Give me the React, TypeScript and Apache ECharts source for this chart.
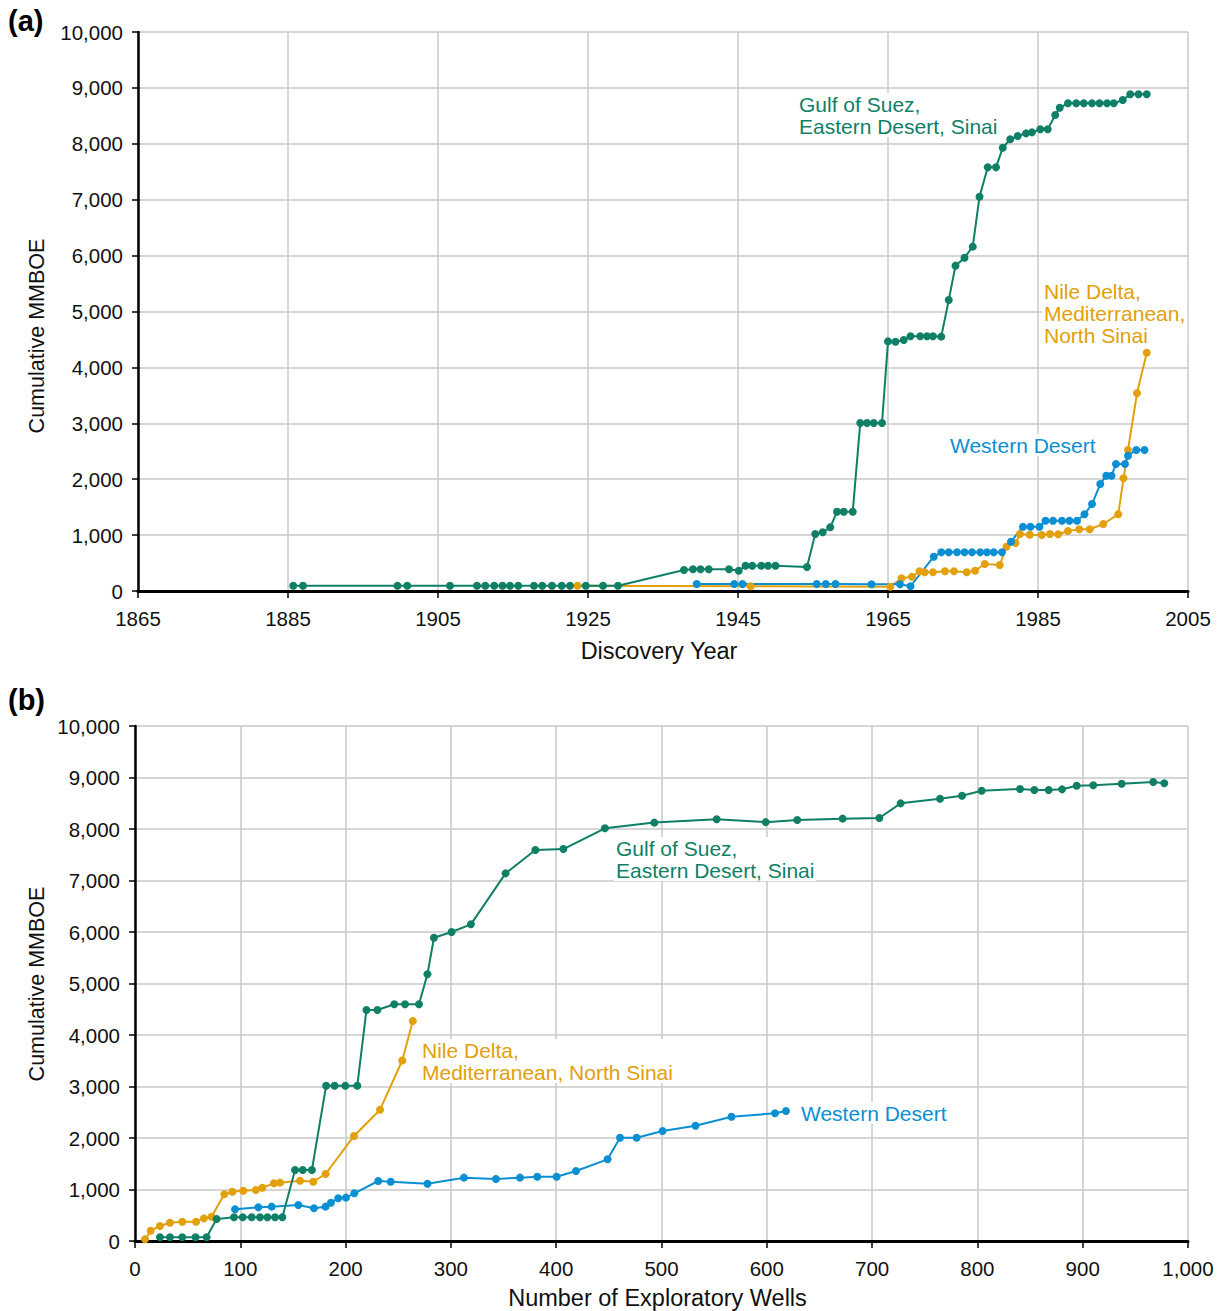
import React, { useEffect, useRef } from "react";
import * as echarts from "echarts";

// ---------- Panel (a): cumulative MMBOE vs discovery year ----------
const suezYearsA = [
  1885.7, 1887.0, 1899.6, 1900.9, 1906.6, 1910.2, 1911.3, 1912.5, 1913.6, 1914.6, 1915.7, 1917.8, 1918.9, 1920.2, 1921.5, 1922.6, 1924.7, 1927.0, 1929.0,
  1937.8, 1939.0, 1940.0, 1941.1, 1943.8, 1945.1, 1946.0, 1946.9, 1948.1, 1949.0, 1950.0,
  1954.2, 1955.3, 1956.3, 1957.3, 1958.2, 1959.1, 1960.3,
  1961.3, 1962.2, 1963.1, 1964.2,
  1965.0, 1966.0, 1967.1, 1968.0, 1969.3, 1970.2, 1971.0, 1972.1,
  1973.1, 1974.0, 1975.2, 1976.3, 1977.2, 1978.3, 1979.4, 1980.3, 1981.3, 1982.3, 1983.4, 1984.2, 1985.3, 1986.3, 1987.3, 1987.9,
  1989.0, 1990.1, 1991.1, 1992.2, 1993.2, 1994.2, 1995.1, 1996.3, 1997.3, 1998.4, 1999.5,
];
const suezCumA = [
  95, 95, 95, 95, 95, 95, 95, 95, 95, 95, 95, 95, 95, 95, 95, 95, 95, 95, 95,
  376, 388, 388, 388, 388, 363, 453, 453, 453, 453, 453,
  430, 1020, 1050, 1140, 1419, 1419, 1419,
  3005, 3005, 3005, 3005,
  4465, 4460, 4490, 4556, 4556, 4556, 4556, 4550,
  5206, 5820, 5963, 6160, 7054, 7579, 7579, 7930, 8080, 8140, 8187, 8205, 8259, 8259, 8515, 8646,
  8724, 8724, 8724, 8724, 8724, 8724, 8724, 8784, 8885, 8885, 8885,
];

const westYearsA = [
  1939.5, 1944.5, 1945.6, 1955.5, 1956.7, 1958.0, 1962.8, 1966.6, 1968.0, 1971.1,
  1972.1, 1973.1, 1974.2, 1975.2, 1976.2, 1977.3, 1978.2, 1979.1, 1980.2, 1981.4,
  1983.0, 1984.0, 1985.2, 1986.0, 1987.0, 1988.2, 1989.2, 1990.2, 1991.2, 1992.2,
  1993.3, 1994.1, 1994.8, 1995.4, 1996.6, 1997.0, 1998.1, 1999.2,
];
const westCumA = [
  125, 125, 125, 125, 125, 125, 120, 120, 85, 614,
  692, 692, 692, 692, 692, 692, 692, 692, 692, 882,
  1150, 1150, 1150, 1258, 1258, 1258, 1258, 1258, 1372, 1556,
  1914, 2063, 2063, 2272, 2272, 2421, 2522, 2522,
];

const nileYearsA = [
  1923.6, 1946.7, 1965.3, 1966.8, 1968.2, 1969.2, 1969.9, 1971.0, 1972.6, 1973.8,
  1975.5, 1976.6, 1977.9, 1979.9, 1980.8, 1982.0, 1982.6, 1983.9, 1985.5, 1986.6,
  1987.7, 1989.0, 1990.5, 1991.9, 1993.7, 1995.7, 1996.4, 1997.0, 1998.2, 1999.5,
];
const nileCumA = [
  95, 85, 77, 227, 256, 352, 334, 334, 352, 352,
  334, 363, 483, 465, 793, 860, 1020, 1005, 1002, 1020,
  1014, 1073, 1104, 1104, 1199, 1372, 2016, 2522, 3536, 4263,
];

// ---------- Panel (b): cumulative MMBOE vs number of exploratory wells ----------
const suezWellsB = [
  23.7, 33.2, 44.9, 57.5, 68, 77.5, 94, 102.3, 110.8, 118.7, 125.7, 133, 139.9,
  152, 159.3, 168, 181.5, 189.5, 199.7, 211.1, 219.8, 230.2, 246.2, 256.4, 269.7,
  277.7, 283.9, 300.7, 319, 351.9, 380.2, 406.8, 446.3, 493.2, 552.4, 599, 628.9,
  672, 706.9, 727.1, 764.5, 785.4, 804, 840.5, 854.1, 867.7, 880.4, 894.3, 910, 937, 967, 977.5,
];
const suezCumB = [
  72, 72, 72, 72, 72, 427, 460, 460, 460, 460, 460, 460, 460,
  1379, 1379, 1379, 3016, 3016, 3016, 3016, 4485, 4485, 4596, 4596, 4596,
  5178, 5889, 6000, 6149, 7139, 7592, 7611, 8014, 8124, 8188, 8133, 8175,
  8201, 8214, 8498, 8588, 8647, 8744, 8777, 8757, 8757, 8770, 8841, 8848, 8880, 8912, 8887,
];

const westWellsB = [
  95, 117.1, 129.8, 155.1, 170, 181, 186.1, 193, 200.3, 208.3, 231, 242.8, 277.8,
  312.4, 342.8, 365.6, 382, 400.4, 418.8, 448.8, 460.6, 476.4, 501, 532.3, 566.5, 607.8, 618.2,
];
const westCumB = [
  615, 654, 667, 699, 635, 667, 744, 829, 842, 926, 1165, 1152, 1113,
  1230, 1204, 1230, 1249, 1249, 1359, 1586, 2006, 2006, 2136, 2239, 2414, 2479, 2524,
];

const nileWellsB = [
  9.5, 14.9, 23.7, 33.2, 44.9, 58, 65.5, 72.7, 84.8, 92.4, 102.8, 114.8, 120.9,
  132, 137.7, 156.7, 169.3, 181, 208, 232.7, 253.8, 263.8,
];
const nileCumB = [
  33, 200, 291, 355, 375, 375, 440, 472, 907, 957, 977, 990, 1035,
  1120, 1133, 1171, 1152, 1301, 2040, 2550, 3505, 4272,
];

const yearTicks = { min: 1865, max: 2005, interval: 20 };
const wellTicks = { min: 0, max: 1000, interval: 100 };
const cumTicks = { min: 0, max: 10000, interval: 1000 };

const GREEN = "#0f7f66";
const ORANGE = "#e2a00b";
const BLUE = "#0b8fd3";
const FONT = "Liberation Sans, Arial, sans-serif";

const zip = (xs: number[], ys: number[]) => xs.map((x, i) => [x, ys[i]]);

function makeSeries(name: string, color: string, data: number[][], idx: number) {
  return {
    name,
    type: "line",
    xAxisIndex: idx,
    yAxisIndex: idx,
    data,
    symbol: "circle",
    symbolSize: 8,
    showSymbol: true,
    lineStyle: { color, width: 2 },
    itemStyle: { color },
    z: 3,
  };
}

function xAxisCfg(idx: number, name: string, ticks: any, fmt: (v: number) => string, gap: number) {
  return {
    type: "value",
    gridIndex: idx,
    min: ticks.min,
    max: ticks.max,
    interval: ticks.interval,
    name,
    nameLocation: "middle",
    nameGap: gap,
    nameTextStyle: { fontSize: 23.5, color: "#111", fontFamily: FONT, padding: [0, 8, 0, 0] },
    axisLine: { show: true, onZero: false, lineStyle: { color: "#000", width: 3 } },
    axisTick: { show: true, length: 7, lineStyle: { color: "#000", width: 1.5 } },
    axisLabel: { fontSize: 20.5, color: "#111", fontFamily: FONT, margin: 17, formatter: fmt },
    splitLine: { show: true, lineStyle: { color: "#c8c8c8", width: 1.5 } },
  };
}

function yAxisCfg(idx: number) {
  return {
    type: "value",
    gridIndex: idx,
    min: cumTicks.min,
    max: cumTicks.max,
    interval: cumTicks.interval,
    axisLine: { show: true, lineStyle: { color: "#000", width: 2.5 } },
    axisTick: { show: true, length: 6, lineStyle: { color: "#000", width: 1.5 } },
    axisLabel: {
      fontSize: 20.5,
      color: "#111",
      fontFamily: FONT,
      margin: 15,
      formatter: (v: number) => v.toLocaleString("en-US"),
    },
    splitLine: { show: true, lineStyle: { color: "#c8c8c8", width: 1.5 } },
  };
}

function label(text: string, left: number, top: number, color: string) {
  return {
    type: "text",
    left,
    top,
    z: 1,
    style: {
      text,
      fill: color,
      fontSize: 21,
      fontFamily: FONT,
      lineHeight: 22,
      backgroundColor: "#fff",
      padding: [0, 2],
    },
  };
}

function yTitle(cy: number) {
  return {
    type: "text",
    x: 37,
    y: cy,
    rotation: Math.PI / 2,
    style: {
      text: "Cumulative MMBOE",
      fill: "#111",
      fontSize: 21.5,
      fontFamily: FONT,
      align: "center",
      verticalAlign: "middle",
    },
  };
}

export default function App() {
  const ref = useRef<HTMLDivElement>(null);
  useEffect(() => {
    document.body.style.margin = "0";
    if (!ref.current) return;
    const chart = echarts.init(ref.current, undefined, { renderer: "svg" });
    chart.setOption({
      animation: false,
      backgroundColor: "#fff",
      grid: [
        { left: 138, right: 34, top: 32, height: 559 },
        { left: 135, right: 34, top: 726, height: 515 },
      ],
      xAxis: [
        xAxisCfg(0, "Discovery Year", yearTicks, (v: number) => String(v), 48),
        xAxisCfg(1, "Number of Exploratory Wells", wellTicks, (v: number) => v.toLocaleString("en-US"), 45),
      ],
      yAxis: [yAxisCfg(0), yAxisCfg(1)],
      series: [
        makeSeries("Nile Delta (a)", ORANGE, zip(nileYearsA, nileCumA), 0),
        makeSeries("Western Desert (a)", BLUE, zip(westYearsA, westCumA), 0),
        makeSeries("Gulf of Suez (a)", GREEN, zip(suezYearsA, suezCumA), 0),
        makeSeries("Nile Delta (b)", ORANGE, zip(nileWellsB, nileCumB), 1),
        makeSeries("Western Desert (b)", BLUE, zip(westWellsB, westCumB), 1),
        makeSeries("Gulf of Suez (b)", GREEN, zip(suezWellsB, suezCumB), 1),
      ],
      graphic: [
        { type: "text", left: 8, top: 6, style: { text: "(a)", fontSize: 29, fontWeight: "bold", fontFamily: FONT, fill: "#000" } },
        { type: "text", left: 8, top: 685, style: { text: "(b)", fontSize: 29, fontWeight: "bold", fontFamily: FONT, fill: "#000" } },
        yTitle(336),
        yTitle(984),
        label("Gulf of Suez,\nEastern Desert, Sinai", 797, 93, GREEN),
        label("Nile Delta,\nMediterranean,\nNorth Sinai", 1042, 280, ORANGE),
        label("Western Desert", 948, 434, BLUE),
        label("Gulf of Suez,\nEastern Desert, Sinai", 614, 837, GREEN),
        label("Nile Delta,\nMediterranean, North Sinai", 420, 1039, ORANGE),
        label("Western Desert", 799, 1102, BLUE),
      ],
    });
    return () => chart.dispose();
  }, []);
  return <div ref={ref} style={{ width: 1222, height: 1311 }} />;
}
